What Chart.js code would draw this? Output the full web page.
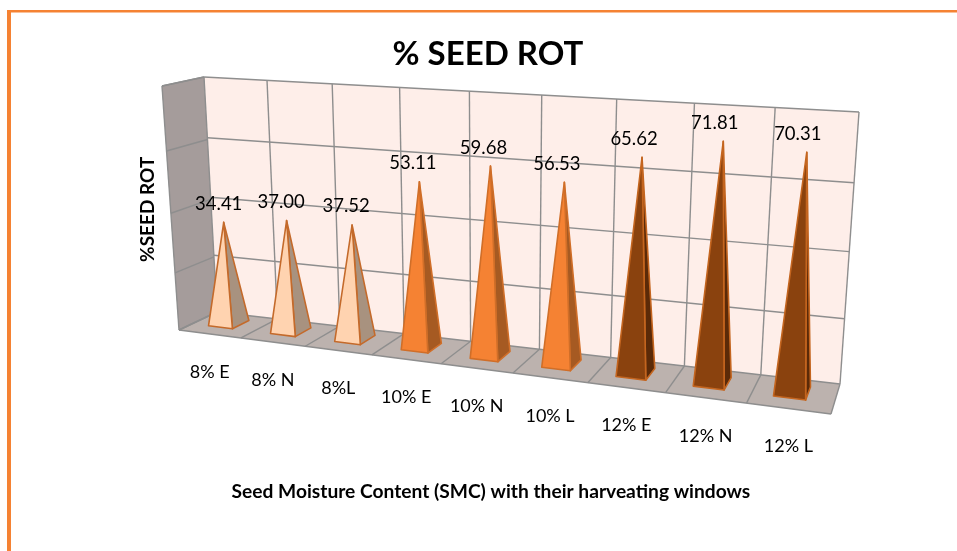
<!DOCTYPE html>
<html>
<head>
<meta charset="utf-8">
<style>
html,body{margin:0;padding:0;background:#fff;overflow:hidden}
canvas{display:block}
</style>
<script src="https://cdn.jsdelivr.net/npm/chart.js@4/dist/chart.umd.js"></script>
</head>
<body>
<canvas id="c" width="957" height="551"></canvas>
<script>
const categories = ['8% E','8% N','8%L','10% E','10% N','10% L','12% E','12% N','12% L'];
const seedRot = [34.41,37.00,37.52,53.11,59.68,56.53,65.62,71.81,70.31];
const dataLabels = ['34.41','37.00','37.52','53.11','59.68','56.53','65.62','71.81','70.31'];
const frontColors = ['#FFD3B0','#FFD3B0','#FFD3B0','#F58233','#F58233','#F58233','#8A420E','#8A420E','#8A420E'];
const sideColors  = ['#A8927F','#A8927F','#A8927F','#A65A22','#A65A22','#A65A22','#5B2A08','#5B2A08','#5B2A08'];
const edgeColors  = ['#C46A2B','#C46A2B','#C46A2B','#D06E28','#D06E28','#D06E28','#C4651F','#C4651F','#C4651F'];
const yMax = 80, yStep = 20;

const FONT = 'Lato, Carlito, "Open Sans", sans-serif';

// plane -> picture mapping of the 3D box (unit square to quad)
function quadMap(p00,p10,p11,p01){
  const dx1=p10[0]-p11[0],dx2=p01[0]-p11[0],sx=p00[0]-p10[0]+p11[0]-p01[0];
  const dy1=p10[1]-p11[1],dy2=p01[1]-p11[1],sy=p00[1]-p10[1]+p11[1]-p01[1];
  const den=dx1*dy2-dx2*dy1;
  const g=(sx*dy2-dx2*sy)/den,h=(dx1*sy-sx*dy1)/den;
  const a=p10[0]-p00[0]+g*p10[0],b=p01[0]-p00[0]+h*p01[0],c=p00[0];
  const d=p10[1]-p00[1]+g*p10[1],e=p01[1]-p00[1]+h*p01[1],f=p00[1];
  return (u,v)=>{const q=g*u+h*v+1;return [(a*u+b*v+c)/q,(d*u+e*v+f)/q];};
}
const BL=[217,312],BR=[840,384],TL=[204,77],TR=[859,112];
const FL=[179,330],FR=[831,414],FTL=[162,86];
const backWall = quadMap(BL,BR,TR,TL);     // (u, height)
const sideWall = quadMap(BL,FL,FTL,TL);    // (depth, height)
const PERSP = 1.19;
function floorMap(u,w){                    // (u, depth)
  const t=u/(u+(1-u)*PERSP);
  const f=[FL[0]+(FR[0]-FL[0])*t, FL[1]+(FR[1]-FL[1])*t];
  const b=backWall(u,0);
  return [b[0]+(f[0]-b[0])*w, b[1]+(f[1]-b[1])*w];
}

function poly(ctx,pts,fill,stroke,lw){
  ctx.beginPath();
  pts.forEach((p,i)=>i?ctx.lineTo(p[0],p[1]):ctx.moveTo(p[0],p[1]));
  ctx.closePath();
  if(fill){ctx.fillStyle=fill;ctx.fill();}
  if(stroke){ctx.strokeStyle=stroke;ctx.lineWidth=lw;ctx.lineJoin='round';ctx.stroke();}
}
function seg(ctx,a,b){ctx.beginPath();ctx.moveTo(a[0],a[1]);ctx.lineTo(b[0],b[1]);ctx.stroke();}

const scene = {
  id:'scene',
  afterLayout(chart){ chart.titleBlock.left-=6; },
  beforeDatasetsDraw(chart){
    const ctx=chart.ctx; ctx.save();
    const n=categories.length, grid='#8E8E8E';
    ctx.fillStyle='#F58233';
    ctx.fillRect(7,10,950,2.5);
    ctx.fillRect(7,10,4,541);
    poly(ctx,[TL,TR,BR,BL],'#FEEEE9');
    poly(ctx,[FTL,TL,BL,FL],'#A59C9B');
    poly(ctx,[BL,BR,FR,FL],'#BCB2AE');
    ctx.strokeStyle=grid; ctx.lineWidth=1.4;
    for(let t=0;t<=yMax;t+=yStep){
      const v=t/yMax;
      seg(ctx,backWall(0,v),backWall(1,v));
      seg(ctx,sideWall(0,v),sideWall(1,v));
    }
    for(let i=0;i<=n;i++){
      const u=i/n;
      seg(ctx,backWall(u,0),backWall(u,1));
      seg(ctx,floorMap(u,0),floorMap(u,1));
    }
    seg(ctx,FL,FR);
    seg(ctx,sideWall(1,0),sideWall(1,1));
    seg(ctx,sideWall(0,1),sideWall(1,1));
    ctx.restore();
  },
  afterDatasetsDraw(chart){
    const ctx=chart.ctx, a=chart.chartArea, bars=chart.getDatasetMeta(0).data, n=categories.length;
    ctx.save();
    bars.forEach((bar,i)=>{
      const cell=(bar.x-a.left)/(a.right-a.left)*n-0.5;   // index from the category scale
      const v=(a.bottom-bar.y)/(a.bottom-a.top);          // height from the value scale
      const uc=(cell+0.465)/n, hu=0.195/n, wc=0.432, hw=0.222;
      const fl=floorMap(uc-hu,wc+hw), fr=floorMap(uc+hu,wc+hw), br=floorMap(uc+hu,wc-hw);
      const base=floorMap(uc,wc), b0=backWall(uc,0), b1=backWall(uc,v), k=1+0.04*wc;
      const apex=[base[0]+(b1[0]-b0[0])*k, base[1]+(b1[1]-b0[1])*k];
      poly(ctx,[fr,br,apex],sideColors[i],edgeColors[i],1.6);
      poly(ctx,[fl,fr,apex],frontColors[i],edgeColors[i],1.6);
      ctx.fillStyle='#000'; ctx.textAlign='center'; ctx.textBaseline='middle';
      ctx.font='18.5px '+FONT;
      ctx.fillText(dataLabels[i],apex[0]-5-4*i/(n-1),apex[1]-18.5);
      const t=floorMap((cell+0.5)/n,1);
      ctx.font='18px '+FONT;
      ctx.fillText(categories[i],t[0],t[1]+38);
    });
    ctx.restore();
  }
};

new Chart(document.getElementById('c'),{
  type:'bar',
  data:{labels:categories,datasets:[{data:seedRot,backgroundColor:'rgba(0,0,0,0)',borderWidth:0}]},
  plugins:[scene],
  options:{
    responsive:false,animation:false,
    layout:{padding:{left:136,right:144,top:35,bottom:48}},
    plugins:{
      legend:{display:false},tooltip:{enabled:false},
      title:{display:true,text:'% SEED ROT',fullSize:false,color:'#000',
        font:{family:FONT,size:33,weight:'bold'},padding:{top:0,bottom:1}}
    },
    scales:{
      x:{grid:{display:false},border:{display:false},ticks:{display:false},
        title:{display:true,text:'Seed Moisture Content (SMC) with their harveating windows',color:'#000',
          font:{family:FONT,size:19.2,weight:'bold'},padding:{top:129,bottom:0}}},
      y:{min:0,max:yMax,grid:{display:false},border:{display:false},ticks:{display:false,stepSize:yStep},
        title:{display:true,text:'%SEED ROT',color:'#000',
          font:{family:FONT,size:19,weight:'bold'},padding:{top:0,bottom:2}}}
    }
  }
});
</script>
</body>
</html>
